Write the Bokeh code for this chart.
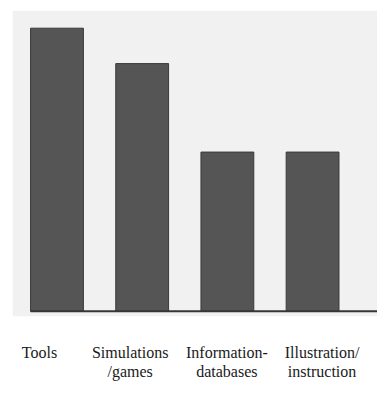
from bokeh.plotting import figure
from bokeh.models import ColumnDataSource, Range1d, BoxAnnotation
from bokeh.core.properties import value
from bokeh.embed import file_html
from bokeh.resources import INLINE

# data
categories = ["Tools", "Simulations\n/games", "Information-\ndatabases", "Illustration/\ninstruction"]
counts = [16, 14, 9, 9]

# styling
bar_width = 0.62
label_x_offsets = [-17.5, -12, -0.5, 9.5]

xs = list(range(len(categories)))
src = ColumnDataSource(dict(x=xs, top=counts, label=categories,
                            zero=[0] * len(xs), xoff=label_x_offsets))

p = figure(width=377, height=390, output_backend="svg", toolbar_location=None,
           x_range=Range1d(-0.522, 3.762), y_range=Range1d(-4.19, 17),
           min_border_left=12, min_border_right=0, min_border_top=10, min_border_bottom=5)
p.axis.visible = False
p.grid.visible = False
p.outline_line_color = None
p.background_fill_color = "white"
p.border_fill_color = "white"

p.add_layout(BoxAnnotation(bottom=-0.28, fill_color="#f1f1f1", fill_alpha=1.0,
                           line_color=None, level="underlay"))

p.vbar(x="x", top="top", bottom=0, width=bar_width, source=src,
       fill_color="#555555", line_color="#3a3a3a", line_width=1)

x_first = xs[0] - bar_width / 2
p.segment(x0=[x_first], y0=[0], x1=[p.x_range.end], y1=[0],
          line_color="#363636", line_width=2)

p.text(x="x", y="zero", text="label", source=src, x_offset="xoff", y_offset=33,
       text_align="center", text_baseline="top", text_line_height=1.08,
       text_font=value("Liberation Serif"), text_font_size="16px", text_color="#1a1a1a")

open("out.html", "w").write(file_html(p, INLINE))
